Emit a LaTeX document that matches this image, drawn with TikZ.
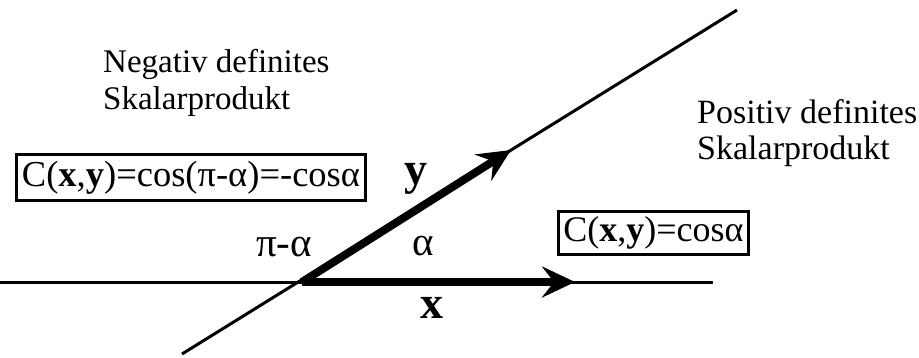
\documentclass[tikz,border=0pt]{standalone}
\usepackage{fontspec}
\setmainfont{Liberation Serif}
\usetikzlibrary{arrows.meta}

\begin{document}
\begin{tikzpicture}[
    x=1pt, y=-1pt,
    formula/.style={draw, line width=3pt, inner xsep=2pt, inner ysep=0pt, minimum width=349pt, minimum height=46pt, font=\fontsize{36.5}{40}\selectfont},
    caption/.style={align=left, inner sep=0pt, anchor=north west, font=\fontsize{33}{37}\selectfont},
    anglelabel/.style={inner sep=0pt, font=\fontsize{41}{44}\selectfont},
    veclabel/.style={inner sep=0pt, font=\fontsize{46}{50}\selectfont\bfseries},
    thinline/.style={line width=3pt},
    vecarrow/.style={-{Stealth[length=33pt, width=31pt, inset=12pt]}, line width=8pt}
]
\useasboundingbox (0,0) rectangle (919,357);

% lines through the origin
\coordinate (O) at (302,282);
\coordinate (hl) at (0,282);
\coordinate (hr) at (713,282);
\coordinate (dl) at (182,354);
\coordinate (dr) at (737,10);
\coordinate (xtip) at (575,282);
\coordinate (ytip) at (511,150);

\draw[thinline] (hl) -- (hr);
\draw[thinline] (dl) -- (dr);

\draw[vecarrow] (O) -- (xtip);
\draw[vecarrow] (O) -- (ytip);

% texts
\node[caption] (negtext) at (103,49) {Negativ definites\\Skalarprodukt};
\node[caption, font=\fontsize{34}{36}\selectfont] (postext) at (697,99) {Positiv definites\\Skalarprodukt};

\node[formula] (negbox) at (191,177.5) {C(\textbf{x},\textbf{y})=cos(π-α)=-cosα};
\node[formula, minimum width=190pt, minimum height=43pt, font=\fontsize{36}{40}\selectfont] (posbox) at (653.5,233) {C(\textbf{x},\textbf{y})=cosα};

\node[veclabel] (ylab) at (416,179) {y};
\node[veclabel] (xlab) at (432,308) {x};
\node[anglelabel] (alpha) at (423,246) {α};
\node[anglelabel] (pialpha) at (284,247) {π-α};
\end{tikzpicture}
\end{document}
